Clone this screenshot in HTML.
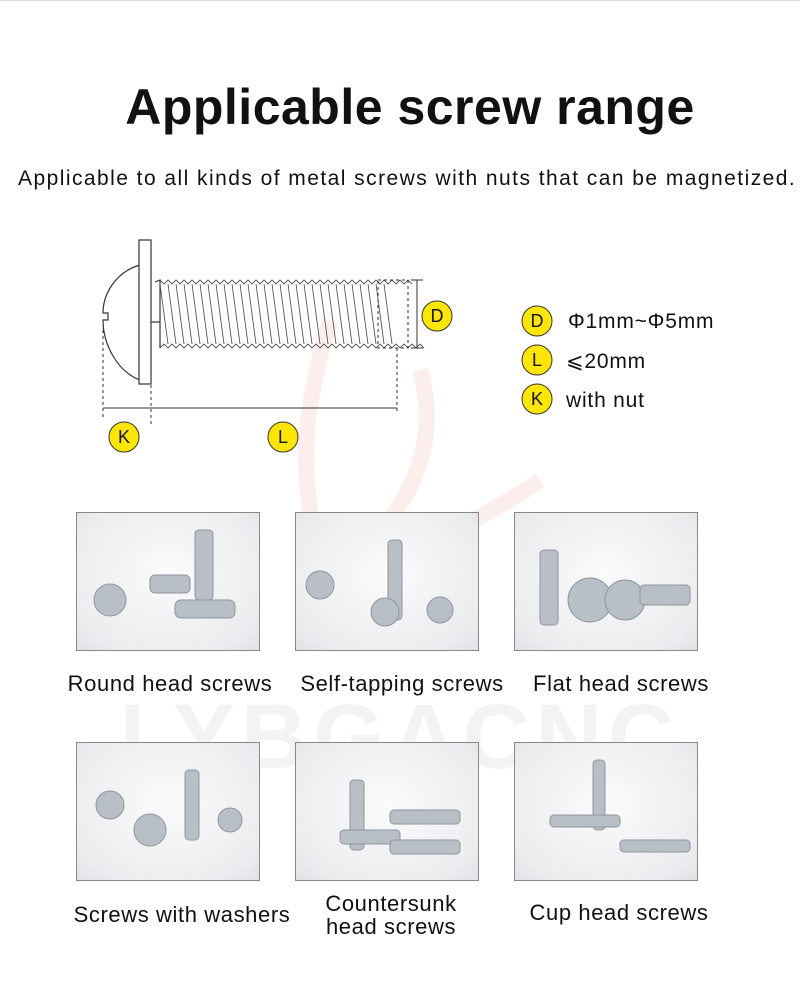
<!DOCTYPE html>
<html><head><meta charset="utf-8"><style>
body{margin:0;width:800px;height:984px;background:#fff;position:relative;overflow:hidden;font-family:"Liberation Sans",sans-serif}
.t{position:absolute;white-space:nowrap;color:#111}
.ph{position:absolute;width:182px;height:137px;border:1px solid #888;background:radial-gradient(ellipse at 50% 45%,#fbfbfc 0%,#ececef 80%,#e2e2e6 100%);overflow:hidden}
.cap{position:absolute;font-size:22px;letter-spacing:0.6px;color:#111;text-align:center;width:250px;line-height:23px}
</style></head><body>
<div style="position:absolute;left:0;top:0;width:800px;height:1px;background:#ddd"></div>
<div class="t" style="left:0;width:820px;text-align:center;top:78px;font-size:50px;font-weight:bold;letter-spacing:0.5px">Applicable screw range</div>
<div class="t" style="left:18px;top:167px;font-size:21px;letter-spacing:1.45px">Applicable to all kinds of metal screws with nuts that can be magnetized.</div>
<svg style="position:absolute;left:0;top:0" width="800" height="984">
<path d="M330 320 C300 420 300 480 320 560 M420 370 C440 440 420 520 300 600 C380 560 470 530 540 480" stroke="#fbe3e3" stroke-width="16" fill="none" opacity="0.6"/>
<text x="400" y="768" text-anchor="middle" font-family="Liberation Sans" font-weight="bold" font-size="92" fill="#f3f3f3" letter-spacing="6">LYBGACNC</text>
</svg>
<svg style="position:absolute;left:0;top:0" width="800" height="480">
<g stroke="#333" fill="none" stroke-width="1.2">
<path d="M140 265 C115 272 103 295 103 313 L108 313 L108 320 L103 320 C103 345 118 372 140 380"/>
<rect x="139" y="240" width="12" height="144" fill="#fff"/>
<line x1="151" y1="322" x2="160" y2="322"/>
<path d="M155 282 L160 280 L160 348"/>
</g>
<g stroke="#555" stroke-width="0.9" fill="none">
<path d="M160 280 l4 4 l4 -4 l4 4 l4 -4 l4 4 l4 -4 l4 4 l4 -4 l4 4 l4 -4 l4 4 l4 -4 l4 4 l4 -4 l4 4 l4 -4 l4 4 l4 -4 l4 4 l4 -4 l4 4 l4 -4 l4 4 l4 -4 l4 4 l4 -4 l4 4 l4 -4 l4 4 l4 -4 l4 4 l4 -4 l4 4 l4 -4 l4 4 l4 -4 l4 4 l4 -4 l4 4 l4 -4 l4 4 l4 -4 l4 4 l4 -4 l4 4 l4 -4 l4 4 l4 -4 l4 4 l4 -4 l4 4 l4 -4 l4 4 l4 -4 l4 4 l4 -4 l4 4 l4 -4 l4 4 l4 -4 l4 4 l4 -4 l4 4"/>
<path d="M160 348 l4 -4 l4 4 l4 -4 l4 4 l4 -4 l4 4 l4 -4 l4 4 l4 -4 l4 4 l4 -4 l4 4 l4 -4 l4 4 l4 -4 l4 4 l4 -4 l4 4 l4 -4 l4 4 l4 -4 l4 4 l4 -4 l4 4 l4 -4 l4 4 l4 -4 l4 4 l4 -4 l4 4 l4 -4 l4 4 l4 -4 l4 4 l4 -4 l4 4 l4 -4 l4 4 l4 -4 l4 4 l4 -4 l4 4 l4 -4 l4 4 l4 -4 l4 4 l4 -4 l4 4 l4 -4 l4 4 l4 -4 l4 4 l4 -4 l4 4 l4 -4 l4 4 l4 -4 l4 4 l4 -4 l4 4 l4 -4 l4 4 l4 -4 l4 4 l4 -4 l4 4"/>
<path d="M160 284 L168 344 M168 284 L176 344 M176 284 L184 344 M184 284 L192 344 M192 284 L200 344 M200 284 L208 344 M208 284 L216 344 M216 284 L224 344 M224 284 L232 344 M232 284 L240 344 M240 284 L248 344 M248 284 L256 344 M256 284 L264 344 M264 284 L272 344 M272 284 L280 344 M280 284 L288 344 M288 284 L296 344 M296 284 L304 344 M304 284 L312 344 M312 284 L320 344 M320 284 L328 344 M328 284 L336 344 M336 284 L344 344 M344 284 L352 344 M352 284 L360 344 M360 284 L368 344 M368 284 L376 344 M376 284 L384 344 M384 284 L392 344"/>
</g>
<g stroke="#333" stroke-width="1" fill="none">
<rect x="378" y="280" width="30" height="68" stroke-dasharray="3 3"/>
<line x1="397" y1="348" x2="397" y2="412" stroke-dasharray="3 3"/>
<line x1="103" y1="330" x2="103" y2="418" stroke-dasharray="3 3"/>
<line x1="151" y1="385" x2="151" y2="426" stroke-dasharray="3 3"/>
<line x1="103" y1="408" x2="397" y2="408"/>
<line x1="417" y1="280" x2="417" y2="348"/>
<line x1="411" y1="280" x2="423" y2="280"/><line x1="411" y1="348" x2="423" y2="348"/>
</g>
<g stroke="#333" stroke-width="1" fill="#ffe600">
<circle cx="437" cy="316" r="15"/><circle cx="124" cy="437" r="15"/><circle cx="283" cy="437" r="15"/>
<circle cx="537" cy="321" r="15"/><circle cx="537" cy="360" r="15"/><circle cx="537" cy="399" r="15"/>
</g>
<g font-family="Liberation Sans" font-size="18" fill="#111" text-anchor="middle">
<text x="437" y="322">D</text><text x="124" y="443">K</text><text x="283" y="443">L</text>
<text x="537" y="327">D</text><text x="537" y="366">L</text><text x="537" y="405">K</text>
</g>
<g font-family="Liberation Sans" font-size="21" fill="#111" letter-spacing="0.8">
<text x="568" y="328">Φ1mm~Φ5mm</text><text x="566" y="368">⩽20mm</text><text x="566" y="407">with nut</text>
</g>
</svg>
<div class="ph" style="left:76px;top:512px"></div>
<div class="ph" style="left:295px;top:512px"></div>
<div class="ph" style="left:514px;top:512px"></div>
<div class="ph" style="left:76px;top:742px"></div>
<div class="ph" style="left:295px;top:742px"></div>
<div class="ph" style="left:514px;top:742px"></div>
<svg style="position:absolute;left:0;top:0" width="800" height="984">
<g fill="#b9bfc6" stroke="#8e959c">
<rect x="195" y="530" width="18" height="70" rx="4"/><circle cx="110" cy="600" r="16"/><rect x="150" y="575" width="40" height="18" rx="5"/><rect x="175" y="600" width="60" height="18" rx="6"/>
<rect x="388" y="540" width="14" height="80" rx="4"/><circle cx="320" cy="585" r="14"/><circle cx="385" cy="612" r="14"/><circle cx="440" cy="610" r="13"/>
<rect x="540" y="550" width="18" height="75" rx="4"/><circle cx="590" cy="600" r="22"/><circle cx="625" cy="600" r="20"/><rect x="640" y="585" width="50" height="20" rx="4"/>
<rect x="185" y="770" width="14" height="70" rx="4"/><circle cx="110" cy="805" r="14"/><circle cx="150" cy="830" r="16"/><circle cx="230" cy="820" r="12"/>
<rect x="350" y="780" width="14" height="70" rx="4"/><rect x="390" y="810" width="70" height="14" rx="4"/><rect x="340" y="830" width="60" height="14" rx="4"/><rect x="390" y="840" width="70" height="14" rx="4"/>
<rect x="593" y="760" width="12" height="70" rx="4"/><rect x="550" y="815" width="70" height="12" rx="4"/><rect x="620" y="840" width="70" height="12" rx="4"/>
</g>
</svg>
<div class="cap" style="left:45px;top:672px">Round head screws</div>
<div class="cap" style="left:277px;top:672px">Self-tapping screws</div>
<div class="cap" style="left:496px;top:672px">Flat head screws</div>
<div class="cap" style="left:57px;top:903px">Screws with washers</div>
<div class="cap" style="left:266px;top:892px">Countersunk<br>head screws</div>
<div class="cap" style="left:494px;top:901px">Cup head screws</div>
</body></html>
